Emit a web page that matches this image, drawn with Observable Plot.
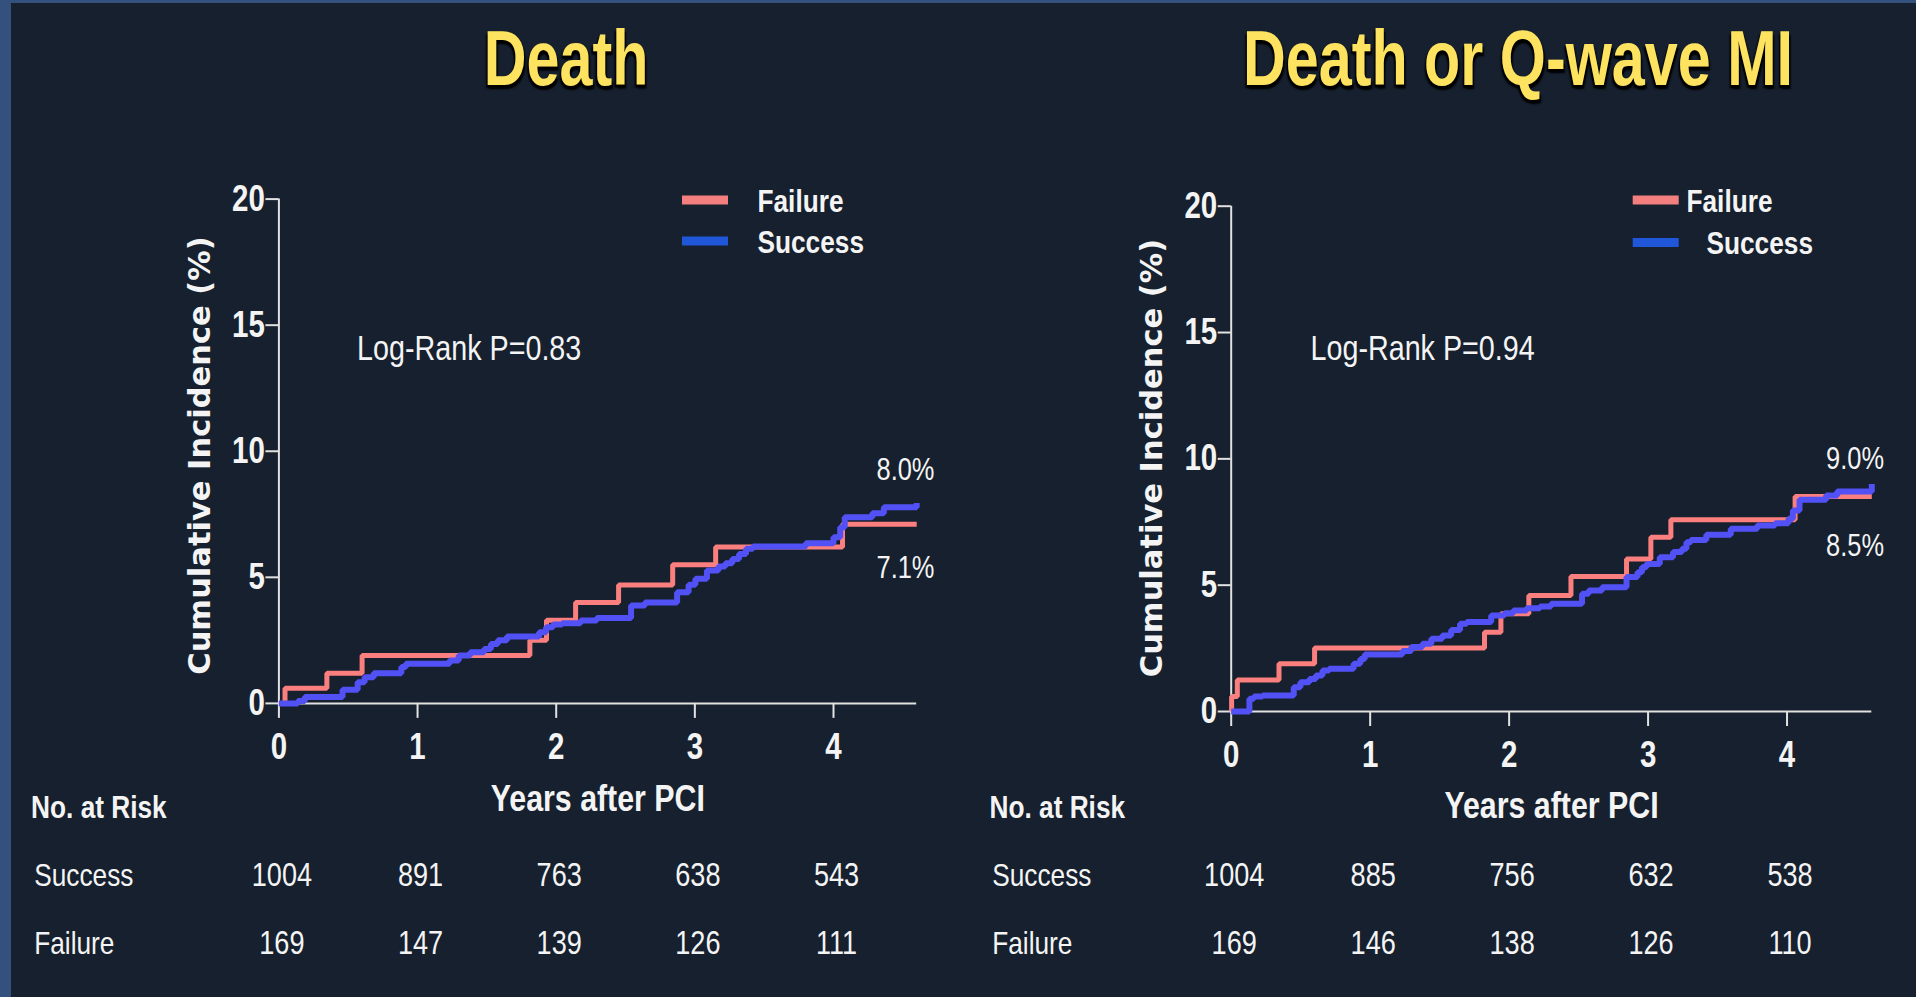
<!DOCTYPE html>
<html>
<head>
<meta charset="utf-8">
<script src="https://cdn.jsdelivr.net/npm/d3@7"></script>
<script src="https://cdn.jsdelivr.net/npm/@observablehq/plot@0.6"></script>
<style>
  html, body { margin: 0; padding: 0; background: #16202e; }
  #page { position: relative; width: 1916px; height: 997px; overflow: hidden; background: #16202e; }
  #page .border-left { position: absolute; left: 0; top: 0; width: 11px; height: 997px; background: #34507c; }
  #page .border-top { position: absolute; left: 0; top: 0; width: 1916px; height: 3px; background: #34507c; }
  #page svg { position: absolute; left: 0; top: 0; }
  .title { position: absolute; font-family: "Liberation Sans", Arial, sans-serif;
    font-weight: bold; font-size: 78px; line-height: 1; color: #fde35f; white-space: nowrap;
    transform-origin: 50% 0; transform: translateX(-50%) scaleX(0.76);
    text-shadow: 2px 4px 2px #000, -2px 3px 2px #000; }
</style>
</head>
<body>
<div id="page"><div class="border-left"></div><div class="border-top"></div></div>
<script>
const W = 1916, H = 997;

// ---- shared categories / ticks ----
const years = [0, 1, 2, 3, 4];
const yTicks = [0, 5, 10, 15, 20];
const groups = ["Failure", "Success"];
const titles = ["Death", "Death or Q-wave MI"];
const pValueTexts = ["Log-Rank P=0.83", "Log-Rank P=0.94"];
const endSuccessLabels = ["8.0%", "9.0%"];
const endFailureLabels = ["7.1%", "8.5%"];
const riskHeader = "No. at Risk";
const xTitle = "Years after PCI";
const yTitle = "Cumulative Incidence (%)";

// ---- Death: cumulative incidence steps (years, %) ----
const deathFailureT = [0, 0.044, 0.346, 0.60, 1.81, 1.93, 2.14, 2.45, 2.84, 3.15, 4.065, 4.6];
const deathFailureV = [0, 0.6, 1.2, 1.9, 2.5, 3.3, 4.0, 4.7, 5.5, 6.2, 7.1, 7.1];
const deathSuccessT = [0, 0.137, 0.187, 0.459, 0.568, 0.618, 0.684, 0.883, 0.916, 1.231, 1.297, 1.380, 1.480, 1.529, 1.579, 1.645, 1.877, 1.927, 1.977, 2.043, 2.176, 2.293, 2.540, 2.640, 2.872, 2.955, 3.004, 3.087, 3.170, 3.220, 3.270, 3.319, 3.369, 3.419, 3.80, 4.0, 4.048, 4.081, 4.280, 4.363, 4.6];
const deathSuccessV = [0, 0.1, 0.25, 0.54, 0.84, 1.04, 1.2, 1.44, 1.57, 1.7, 1.9, 2.03, 2.16, 2.36, 2.5, 2.65, 2.82, 3.02, 3.13, 3.18, 3.29, 3.39, 3.88, 4.0, 4.41, 4.71, 4.94, 5.27, 5.43, 5.56, 5.73, 5.93, 6.13, 6.22, 6.35, 6.59, 6.99, 7.38, 7.54, 7.78, 7.95];
const deathRiskSuccess = [1004, 891, 763, 638, 543];
const deathRiskFailure = [169, 147, 139, 126, 111];

// ---- Death or Q-wave MI ----
const qmiFailureT = [0, 0.003, 0.044, 0.344, 0.600, 1.823, 1.941, 2.142, 2.445, 2.845, 3.020, 3.164, 4.058, 4.61];
const qmiFailureV = [0, 0.59, 1.25, 1.89, 2.51, 3.14, 3.87, 4.59, 5.34, 6.04, 6.9, 7.59, 8.51, 8.51];
const qmiSuccessT = [0, 0.131, 0.163, 0.226, 0.450, 0.498, 0.562, 0.609, 0.657, 0.705, 0.881, 0.929, 0.961, 1.232, 1.296, 1.376, 1.440, 1.519, 1.583, 1.647, 1.695, 1.871, 1.966, 2.030, 2.126, 2.222, 2.302, 2.525, 2.573, 2.669, 2.845, 2.924, 2.956, 2.988, 3.084, 3.180, 3.244, 3.276, 3.308, 3.419, 3.595, 3.786, 3.914, 4.010, 4.042, 4.090, 4.281, 4.361, 4.61];
const qmiSuccessV = [0, 0.5, 0.59, 0.63, 0.96, 1.16, 1.29, 1.42, 1.62, 1.69, 1.89, 2.08, 2.26, 2.39, 2.55, 2.68, 2.88, 3.01, 3.23, 3.47, 3.54, 3.8, 3.89, 4.0, 4.09, 4.16, 4.26, 4.66, 4.79, 4.92, 5.32, 5.51, 5.71, 5.84, 6.11, 6.31, 6.44, 6.7, 6.79, 7.0, 7.23, 7.36, 7.45, 7.63, 7.96, 8.38, 8.55, 8.71, 9.0];
const qmiRiskSuccess = [1004, 885, 756, 632, 538];
const qmiRiskFailure = [169, 146, 138, 126, 110];

// ---- styles ----
const NARROW = '"Liberation Sans", Arial, sans-serif';
const WIDE = '"DejaVu Sans", Verdana, sans-serif';
const CONDENSE = 0.82;
const TEXT = "#f4f4f4";
const AXIS = "#e2e2e2";
const lineColor = {Failure: "#fb7f7e", Success: "#5151f6"};
const lineWidth = {Failure: 5, Success: 6};
const swatchColor = {Failure: "#f47f7f", Success: "#1f57d8"};

const layouts = [
  {ml: 278.4, mr: W - 916.2, mt: 198.6, mb: H - 702.9, xMax: 4.6, titleX: 566,
   swatchX: 682, swatchY: [200, 241], legendX: [757, 757], legendBase: [211, 252],
   pX: 356.6, pBase: 359, endX: 876, endBase: [479, 577],
   labelX: 33.7, headerX: 30.6, yTitleXY: [200, 455], xTitleBase: 810},
  {ml: 1230.7, mr: W - 1871.3, mt: 205.7, mb: H - 711, xMax: 4.61, titleX: 1518,
   swatchX: 1632.7, swatchY: [200, 242.5], legendX: [1686, 1706], legendBase: [211, 253],
   pX: 1310, pBase: 359, endX: 1825.6, endBase: [468, 555],
   labelX: 991.7, headerX: 989, yTitleXY: [1151.5, 457.5], xTitleBase: 817}
];

const panels = [
  {failT: deathFailureT, failV: deathFailureV, succT: deathSuccessT, succV: deathSuccessV, riskS: deathRiskSuccess, riskF: deathRiskFailure},
  {failT: qmiFailureT, failV: qmiFailureV, succT: qmiSuccessT, succV: qmiSuccessV, riskS: qmiRiskSuccess, riskF: qmiRiskFailure}
];

const page = document.getElementById("page");

panels.forEach((d, k) => {
  const L = layouts[k];
  const frameBottom = H - L.mb;
  const at = (px, py, o = {}) => ({frameAnchor: "top-left", dx: px - L.ml, dy: py - L.mt,
    textAnchor: "start", lineAnchor: "bottom", ...o});
  const series = [
    ...d.failT.map((t, i) => ({group: "Failure", t, v: d.failV[i]})),
    ...d.succT.map((t, i) => ({group: "Success", t, v: d.succV[i]}))
  ];
  const rows = years.map((t, i) => ({t, s: d.riskS[i], f: d.riskF[i]}));

  const svg = Plot.plot({
    width: W, height: H,
    marginLeft: L.ml, marginRight: L.mr, marginTop: L.mt, marginBottom: L.mb,
    x: {domain: [0, L.xMax]},
    y: {domain: [0, 20]},
    style: {background: "transparent", overflow: "visible", fontFamily: NARROW, color: TEXT},
    marks: [
      Plot.ruleY([0], {stroke: AXIS, strokeWidth: 2}),
      Plot.ruleX([0], {stroke: AXIS, strokeWidth: 2}),
      Plot.axisX({ticks: years, tickFormat: d => String(d), tickSize: 15, tickPadding: 15, strokeWidth: 2,
        color: AXIS, fill: TEXT, fontSize: 36, fontWeight: "bold", fontFamily: NARROW, label: null}),
      Plot.axisY({ticks: yTicks, tickFormat: d => String(d), tickSize: 13, tickPadding: 1, strokeWidth: 2,
        color: AXIS, fill: TEXT, fontSize: 36, fontWeight: "bold", fontFamily: NARROW, label: null}),
      ...groups.map(g => Plot.line(series.filter(p => p.group === g), {
        x: "t", y: "v", curve: "step-after", stroke: lineColor[g], strokeWidth: lineWidth[g],
        strokeLinejoin: "miter", strokeLinecap: "butt"})),
      // y title
      Plot.text([yTitle], at(L.yTitleXY[0], L.yTitleXY[1], {textAnchor: "middle", lineAnchor: "middle",
        rotate: -90, fontFamily: WIDE, fontWeight: "bold", fontSize: 30.5, fill: TEXT})),
      // legend labels
      ...groups.map((g, i) => Plot.text([g], at(L.legendX[i], L.legendBase[i], {
        fontWeight: "bold", fontSize: 32, fill: TEXT}))),
      // p-value
      Plot.text([pValueTexts[k]], at(L.pX, L.pBase, {fontSize: 35, fill: TEXT})),
      // end labels
      Plot.text([endSuccessLabels[k]], at(L.endX, L.endBase[0], {fontSize: 31, fill: TEXT})),
      Plot.text([endFailureLabels[k]], at(L.endX, L.endBase[1], {fontSize: 31, fill: TEXT})),
      // x title
      Plot.text([xTitle], {frameAnchor: "bottom", dy: L.xTitleBase - frameBottom, textAnchor: "middle",
        lineAnchor: "bottom", fontWeight: "bold", fontSize: 37, fill: TEXT}),
      // number at risk table
      Plot.text([riskHeader], at(L.headerX, 817, {fontWeight: "bold", fontSize: 32, fill: TEXT})),
      Plot.text(["Success"], at(L.labelX, 885, {fontSize: 32, fill: TEXT})),
      Plot.text(["Failure"], at(L.labelX, 953, {fontSize: 32, fill: TEXT})),
      Plot.text(rows, {x: "t", text: d => String(d.s), frameAnchor: "bottom", dx: 3, dy: 885 - frameBottom,
        textAnchor: "middle", lineAnchor: "bottom", fontSize: 33, fill: TEXT}),
      Plot.text(rows, {x: "t", text: d => String(d.f), frameAnchor: "bottom", dx: 3, dy: 953 - frameBottom,
        textAnchor: "middle", lineAnchor: "bottom", fontSize: 33, fill: TEXT})
    ]
  });

  // legend swatches
  const lg = d3.select(svg).append("g");
  groups.forEach((g, i) => {
    lg.append("rect").attr("x", L.swatchX).attr("y", L.swatchY[i] - 4.5)
      .attr("width", 46).attr("height", 9).attr("fill", swatchColor[g]);
  });

  page.appendChild(svg);

  // condense the Arial-like texts to an Arial-Narrow-like width
  svg.querySelectorAll("text").forEach(t => {
    const ff = getComputedStyle(t).fontFamily;
    if (ff.includes("DejaVu")) return;
    const len = t.getComputedTextLength();
    if (len > 0) {
      t.setAttribute("textLength", (len * CONDENSE).toFixed(1));
      t.setAttribute("lengthAdjust", "spacingAndGlyphs");
    }
  });

  const t = document.createElement("div");
  t.className = "title";
  t.textContent = titles[k];
  t.style.left = L.titleX + "px";
  t.style.top = "19px";
  page.appendChild(t);
});
</script>
</body>
</html>
